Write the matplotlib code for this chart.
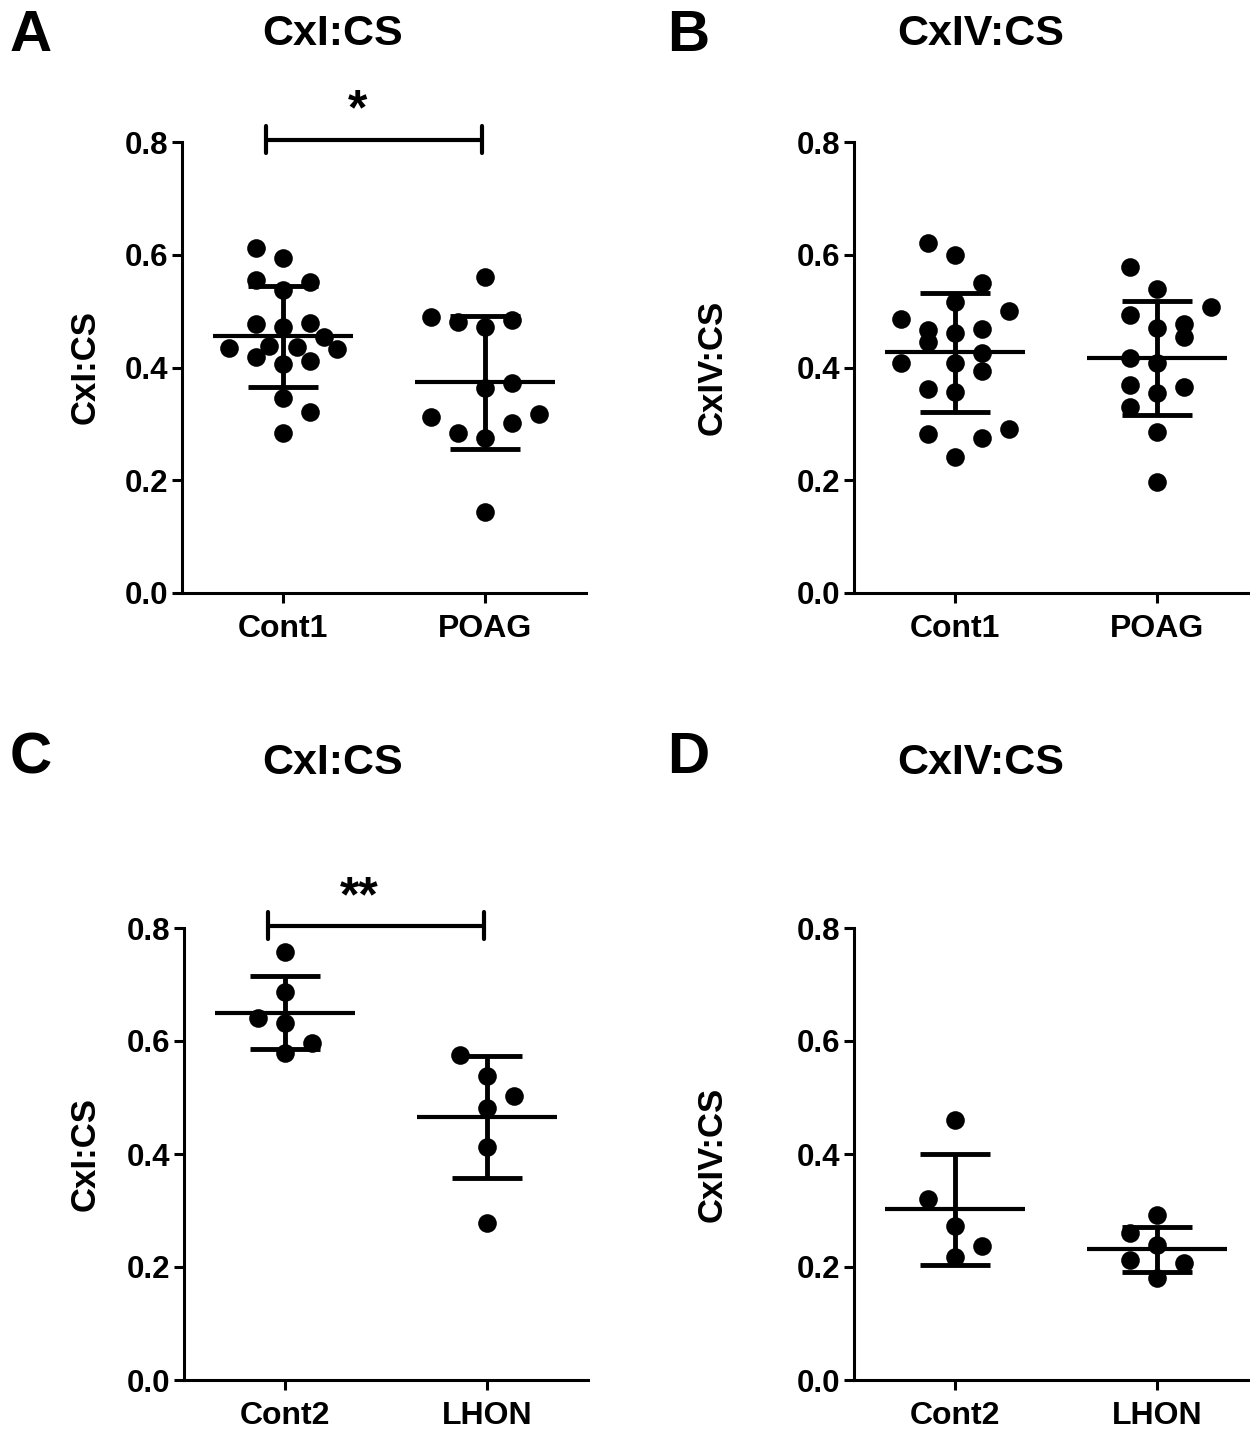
import matplotlib
matplotlib.use("Agg")
import matplotlib.pyplot as plt
import numpy as np

plt.rcParams["font.family"] = ["Liberation Sans", "DejaVu Sans"]
plt.rcParams["font.weight"] = "bold"

# dot values, with the jitter column each dot sits in
a_cont1 = [0.612, 0.594, 0.555, 0.552, 0.537, 0.477, 0.472, 0.479, 0.454, 0.435,
           0.438, 0.436, 0.433, 0.419, 0.406, 0.412, 0.346, 0.321, 0.284]
a_cont1_col = [-1, 0, -1, 1, 0, -1, 0, 1, 1.5, -2, -0.5, 0.5, 2, -1, 0, 1, 0, 1, 0]
a_poag = [0.560, 0.490, 0.481, 0.472, 0.484, 0.372, 0.364, 0.312, 0.284, 0.275,
          0.302, 0.318, 0.144]
a_poag_col = [0, -2, -1, 0, 1, 1, 0, -2, -1, 0, 1, 2, 0]

b_cont1 = [0.621, 0.600, 0.550, 0.516, 0.500, 0.486, 0.466, 0.445, 0.461, 0.468,
           0.426, 0.394, 0.408, 0.408, 0.357, 0.362, 0.282, 0.275, 0.291, 0.241]
b_cont1_col = [-1, 0, 1, 0, 2, -2, -1, -1, 0, 1, 1, 1, -2, 0, 0, -1, -1, 1, 2, 0]
b_poag = [0.578, 0.539, 0.508, 0.493, 0.470, 0.477, 0.454, 0.417, 0.408, 0.369,
          0.355, 0.365, 0.330, 0.286, 0.197]
b_poag_col = [-1, 0, 2, -1, 0, 1, 1, -1, 0, -1, 0, 1, -1, 0, 0]

c_cont2 = [0.757, 0.686, 0.641, 0.632, 0.596, 0.579]
c_cont2_col = [0, 0, -1, 0, 1, 0]
c_lhon = [0.575, 0.538, 0.503, 0.481, 0.412, 0.278]
c_lhon_col = [-1, 0, 1, 0, 0, 0]

d_cont2 = [0.460, 0.320, 0.273, 0.237, 0.218]
d_cont2_col = [0, -1, 0, 1, 0]
d_lhon = [0.292, 0.260, 0.239, 0.212, 0.207, 0.181]
d_lhon_col = [0, -1, 0, -1, 1, 0]

# mean and SD lines as drawn
a_mean = [0.455, 0.374]
a_sd = [0.090, 0.118]
b_mean = [0.427, 0.417]
b_sd = [0.106, 0.101]
c_mean = [0.650, 0.466]
c_sd = [0.065, 0.108]
d_mean = [0.302, 0.231]
d_sd = [0.098, 0.040]

groups_top = ["Cont1", "POAG"]
groups_bottom = ["Cont2", "LHON"]
yticks = [0.0, 0.2, 0.4, 0.6, 0.8]

COL_STEP = 0.134
MEAN_HALF = 0.345
CAP_HALF = 0.175


def draw_panel(ax, values, cols, means, sds, groups, ylabel, label_x):
    for i in range(2):
        x = i + np.array(cols[i]) * COL_STEP
        ax.scatter(x, values[i], s=180, color="black", zorder=3, clip_on=False,
                   linewidths=0)
        ax.hlines(means[i], i - MEAN_HALF, i + MEAN_HALF, color="black", lw=3.0, zorder=4)
        lo, hi = means[i] - sds[i], means[i] + sds[i]
        ax.vlines(i, lo, hi, color="black", lw=3.5, zorder=4)
        ax.hlines([lo, hi], i - CAP_HALF, i + CAP_HALF, color="black", lw=3.5, zorder=4)
    ax.set_xlim(-0.5, 1.5)
    ax.set_ylim(0, 0.8)
    ax.set_yticks(yticks)
    ax.set_yticklabels([f"{t:.1f}" for t in yticks])
    ax.set_xticks([0, 1])
    ax.set_xticklabels(groups)
    ax.spines["top"].set_visible(False)
    ax.spines["right"].set_visible(False)
    ax.spines["left"].set_linewidth(2.2)
    ax.spines["bottom"].set_linewidth(2.2)
    ax.tick_params(axis="y", length=7, width=2.2, pad=3, labelsize=22.5)
    ax.tick_params(axis="x", length=7, width=2.2, pad=8, labelsize=23)
    ax.set_ylabel(ylabel, fontsize=25, fontweight="bold")
    ax.yaxis.set_label_coords(label_x, 0.5)
    ax.yaxis.label.set_verticalalignment("center")


def draw_bracket(ax, stars, y_star):
    ax.plot([-0.084, 0.985], [0.8035, 0.8035], color="black", lw=3.0, clip_on=False,
            solid_capstyle="round")
    for xe in [-0.084, 0.985]:
        ax.plot([xe, xe], [0.78, 0.828], color="black", lw=3.0, clip_on=False,
                solid_capstyle="round")
    ax.text(0.37, y_star, stars, ha="center", va="center", fontsize=36,
            fontweight="bold", clip_on=False)


fig = plt.figure(figsize=(12.5, 14.3), dpi=100)
W, H = 1250, 1430
ax_a = fig.add_axes([182 / W, 1 - 593 / H, 404 / W, 451 / H])
ax_b = fig.add_axes([854 / W, 1 - 593 / H, 404 / W, 451 / H])
ax_c = fig.add_axes([184 / W, 1 - 1380 / H, 404 / W, 452 / H])
ax_d = fig.add_axes([854 / W, 1 - 1380 / H, 404 / W, 452 / H])

draw_panel(ax_a, [a_cont1, a_poag], [a_cont1_col, a_poag_col], a_mean, a_sd,
           groups_top, "CxI:CS", -0.240)
draw_panel(ax_b, [b_cont1, b_poag], [b_cont1_col, b_poag_col], b_mean, b_sd,
           groups_top, "CxIV:CS", -0.351)
draw_panel(ax_c, [c_cont2, c_lhon], [c_cont2_col, c_lhon_col], c_mean, c_sd,
           groups_bottom, "CxI:CS", -0.245)
draw_panel(ax_d, [d_cont2, d_lhon], [d_cont2_col, d_lhon_col], d_mean, d_sd,
           groups_bottom, "CxIV:CS", -0.351)

draw_bracket(ax_a, "*", 0.855)
draw_bracket(ax_c, "**", 0.852)

# panel letters and titles
for letter, lx, ly in [("A", 10, 36), ("B", 667, 36), ("C", 10, 758), ("D", 667, 758)]:
    fig.text(lx / W, 1 - ly / H, letter, ha="left", va="center", fontsize=42,
             fontweight="bold")
for title, tx, ty in [("CxI:CS", 333, 34), ("CxIV:CS", 981, 34),
                      ("CxI:CS", 333, 763), ("CxIV:CS", 981, 763)]:
    fig.text(tx / W, 1 - ty / H, title, ha="center", va="center", fontsize=31,
             fontweight="bold")

fig.savefig("out.png", dpi=100)
